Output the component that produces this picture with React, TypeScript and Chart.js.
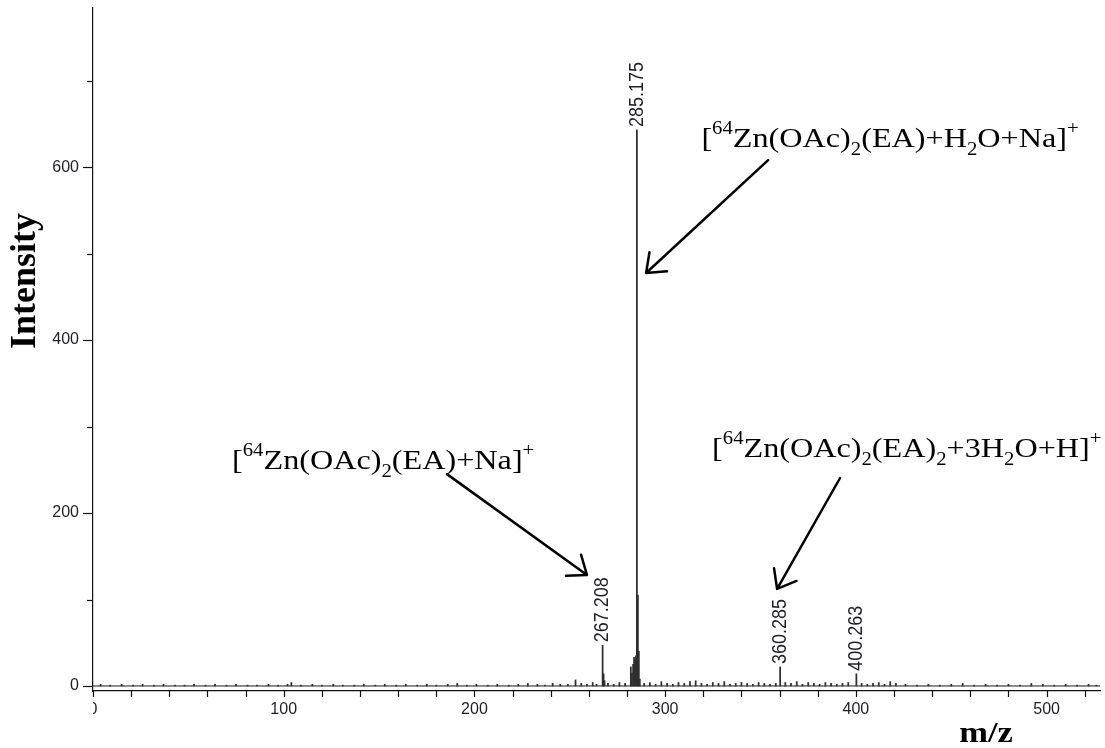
import React, { useEffect, useRef } from "react";
import { Chart, registerables } from "chart.js";

Chart.register(...registerables);

// ---------------- data ----------------
const peakMz = [267.208, 267.7, 268.2, 282.0, 282.6, 283.2, 283.7, 284.2, 284.7, 285.175, 285.7, 286.2, 286.7, 360.285, 400.263];
const peakIntensity = [47, 14, 6, 22, 15, 25, 33, 30, 35, 643, 105, 40, 8, 22, 14];

// baseline noise: [m/z, intensity]
const noise: [number, number][] = [
  [4, 2], [9, 1], [15, 2], [21, 1], [26, 2], [32, 1], [37, 2], [43, 1], [48, 1], [53, 2], [59, 1], [64, 2],
  [70, 1], [75, 2], [81, 1], [86, 1], [92, 2], [97, 1], [102, 2], [104, 4], [109, 1], [115, 2], [120, 1],
  [126, 2], [131, 1], [137, 1], [142, 2], [148, 1], [153, 2], [159, 1], [164, 2], [170, 1], [175, 2],
  [180, 1], [186, 2], [191, 3], [196, 1], [201, 2], [207, 1], [212, 2], [218, 1], [223, 2], [228, 3],
  [233, 2], [237, 1], [241, 3], [245, 2], [249, 2], [253, 7], [256, 3], [259, 2], [262, 4], [264, 2],
  [270, 3], [273, 2], [276, 4], [279, 3], [289, 3], [292, 4], [295, 2], [298, 5], [301, 3], [304, 2],
  [307, 4], [310, 3], [313, 5], [316, 6], [319, 3], [322, 2], [325, 4], [328, 3], [331, 5], [334, 2],
  [337, 3], [340, 4], [343, 3], [346, 2], [349, 4], [352, 3], [355, 2], [358, 3], [363, 4], [366, 3],
  [369, 5], [372, 2], [375, 4], [378, 3], [381, 2], [384, 4], [387, 3], [390, 2], [393, 3], [396, 4],
  [403, 3], [406, 2], [409, 3], [412, 4], [415, 2], [418, 5], [421, 3], [426, 2], [432, 1], [438, 2],
  [444, 1], [450, 2], [456, 3], [462, 1], [468, 2], [474, 1], [480, 2], [486, 1], [492, 3], [498, 2],
  [504, 1], [510, 2], [516, 1], [522, 2], [526, 1],
];

const labelText = ["267.208", "285.175", "360.285", "400.263"];
const labelMz = [267.208, 285.175, 360.285, 400.263];
const labelIntensity = [47, 643, 22, 14];

const xLabelTicks = [0, 100, 200, 300, 400, 500];
const xMinorTicks = [20, 40, 60, 80, 120, 140, 160, 180, 220, 240, 260, 280, 320, 340, 360, 380, 420, 440, 460, 480, 520];
const yLabelTicks = [0, 200, 400, 600];
const yMinorTicks = [100, 300, 500, 700];

const xRange = [0, 528];
const yRange = [-5.8, 784];
const baselineMz = [0, 528];
const baselineIntensity = [0, 0];

const xTitle = "m/z";
const yTitle = "Intensity";

type Seg = [string, "n" | "sup" | "sub"];
const annotationTexts: Seg[][] = [
  [["[", "n"], ["64", "sup"], ["Zn(OAc)", "n"], ["2", "sub"], ["(EA)+H", "n"], ["2", "sub"], ["O+Na]", "n"], ["+", "sup"]],
  [["[", "n"], ["64", "sup"], ["Zn(OAc)", "n"], ["2", "sub"], ["(EA)+Na]", "n"], ["+", "sup"]],
  [["[", "n"], ["64", "sup"], ["Zn(OAc)", "n"], ["2", "sub"], ["(EA)", "n"], ["2", "sub"], ["+3H", "n"], ["2", "sub"], ["O+H]", "n"], ["+", "sup"]],
];
// anchors in data units (m/z, intensity)
const annotationTextAt = [[319, 623], [72.9, 251], [324.6, 265]];
const arrowTail = [[354, 608], [185.6, 245], [391.7, 240.5]];
const arrowTip = [[290, 477.6], [259, 128.4], [358.7, 112.2]];

// ---------------- drawing helpers ----------------
const SERIF = "'Liberation Serif', 'Times New Roman', serif";
const SANS = "'Liberation Sans', Arial, sans-serif";
const TICK_COLOR = "#1e1e24";
const STRETCH = 1.15;

function drawRich(ctx: CanvasRenderingContext2D, segs: Seg[], x: number, y: number) {
  ctx.save();
  ctx.translate(x, y);
  ctx.scale(STRETCH, 1);
  ctx.fillStyle = "#000";
  ctx.textAlign = "left";
  ctx.textBaseline = "alphabetic";
  let cx = 0;
  for (const [t, m] of segs) {
    if (m === "n") {
      ctx.font = `28px ${SERIF}`;
      ctx.fillText(t, cx, 0);
    } else if (m === "sup") {
      ctx.font = `18px ${SERIF}`;
      ctx.fillText(t, cx, -13);
    } else {
      ctx.font = `18px ${SERIF}`;
      ctx.fillText(t, cx, 8);
    }
    cx += ctx.measureText(t).width;
  }
  ctx.restore();
}

function drawArrow(ctx: CanvasRenderingContext2D, x0: number, y0: number, x1: number, y1: number) {
  const ang = Math.atan2(y1 - y0, x1 - x0);
  const len = 21;
  const spread = (38 * Math.PI) / 180;
  ctx.save();
  ctx.strokeStyle = "#000";
  ctx.lineWidth = 2.5;
  ctx.lineCap = "round";
  ctx.lineJoin = "round";
  ctx.beginPath();
  ctx.moveTo(x0, y0);
  ctx.lineTo(x1, y1);
  ctx.moveTo(x1 - len * Math.cos(ang - spread), y1 - len * Math.sin(ang - spread));
  ctx.lineTo(x1, y1);
  ctx.lineTo(x1 - len * Math.cos(ang + spread), y1 - len * Math.sin(ang + spread));
  ctx.stroke();
  ctx.restore();
}

const decor = {
  id: "decor",
  afterDraw(chart: any) {
    const { ctx, chartArea } = chart;
    const xs = chart.scales.x;
    const ys = chart.scales.y;
    ctx.save();
    ctx.strokeStyle = "#111";
    ctx.lineWidth = 1.2;
    const xb = chartArea.bottom;
    for (const v of [...xLabelTicks, ...xMinorTicks]) {
      const px = Math.round(xs.getPixelForValue(v)) + 0.5;
      ctx.beginPath();
      ctx.moveTo(px, xb);
      ctx.lineTo(px, xb + 6);
      ctx.stroke();
    }
    const yl = chartArea.left;
    for (const v of yLabelTicks) {
      const py = Math.round(ys.getPixelForValue(v)) + 0.5;
      ctx.beginPath();
      ctx.moveTo(yl - 10, py);
      ctx.lineTo(yl, py);
      ctx.stroke();
    }
    for (const v of yMinorTicks) {
      const py = Math.round(ys.getPixelForValue(v)) + 0.5;
      ctx.beginPath();
      ctx.moveTo(yl - 6, py);
      ctx.lineTo(yl, py);
      ctx.stroke();
    }
    ctx.restore();

    // clipped "0" label of the x axis
    ctx.save();
    ctx.beginPath();
    ctx.rect(yl, xb + 1, 40, 40);
    ctx.clip();
    ctx.font = `16px ${SANS}`;
    ctx.fillStyle = TICK_COLOR;
    ctx.textAlign = "center";
    ctx.textBaseline = "middle";
    ctx.fillText(String(xLabelTicks[0]), xs.getPixelForValue(xLabelTicks[0]), xb + 9 + 9.6);
    ctx.restore();

    // peak labels
    for (let i = 0; i < labelText.length; i++) {
      const px = xs.getPixelForValue(labelMz[i]);
      const py = ys.getPixelForValue(labelIntensity[i]) - 3;
      ctx.save();
      ctx.translate(px, py);
      ctx.rotate(-Math.PI / 2);
      ctx.scale(1, STRETCH);
      ctx.font = `18px ${SANS}`;
      ctx.fillStyle = TICK_COLOR;
      ctx.textAlign = "left";
      ctx.textBaseline = "middle";
      ctx.fillText(labelText[i], 0, 0);
      ctx.restore();
    }

    // axis titles
    ctx.save();
    ctx.translate(35, 281);
    ctx.rotate(-Math.PI / 2);
    ctx.font = `bold 36px ${SERIF}`;
    ctx.fillStyle = "#000";
    ctx.textAlign = "center";
    ctx.textBaseline = "alphabetic";
    ctx.fillText(yTitle, 0, 0);
    ctx.restore();

    ctx.save();
    ctx.translate(986, 742);
    ctx.scale(STRETCH, 1);
    ctx.font = `bold 30px ${SERIF}`;
    ctx.fillStyle = "#000";
    ctx.textAlign = "center";
    ctx.textBaseline = "alphabetic";
    ctx.fillText(xTitle, 0, 0);
    ctx.restore();

    // annotations
    for (let i = 0; i < annotationTexts.length; i++) {
      const [tx, ty] = annotationTextAt[i];
      drawRich(ctx, annotationTexts[i], xs.getPixelForValue(tx), ys.getPixelForValue(ty));
      const [ax0, ay0] = arrowTail[i];
      const [ax1, ay1] = arrowTip[i];
      drawArrow(
        ctx,
        xs.getPixelForValue(ax0),
        ys.getPixelForValue(ay0),
        xs.getPixelForValue(ax1),
        ys.getPixelForValue(ay1)
      );
    }
  },
};

export default function App() {
  const ref = useRef<HTMLCanvasElement | null>(null);

  useEffect(() => {
    if (!ref.current) return;
    const stickData = [
      ...peakMz.map((m, i) => ({ x: m, y: peakIntensity[i] })),
      ...noise.map(([m, v]) => ({ x: m, y: v })),
    ];
    const chart = new Chart(ref.current, {
      type: "bar",
      data: {
        datasets: [
          {
            type: "line",
            label: "baseline",
            data: baselineMz.map((m, i) => ({ x: m, y: baselineIntensity[i] })),
            borderColor: "#1a1a1a",
            borderWidth: 1,
            pointRadius: 0,
            order: 2,
          } as any,
          {
            type: "bar",
            label: "spectrum",
            data: stickData,
            backgroundColor: "#2e2e2e",
            borderWidth: 0,
            barThickness: 1.1,
            order: 1,
          } as any,
        ],
      },
      options: {
        animation: false,
        responsive: false,
        maintainAspectRatio: false,
        layout: { padding: { top: 8, right: 5, left: 0, bottom: 0 } },
        plugins: { legend: { display: false }, tooltip: { enabled: false } },
        scales: {
          x: {
            type: "linear",
            min: xRange[0],
            max: xRange[1],
            offset: false,
            grid: { display: false, drawTicks: false },
            border: { display: true, color: "#111", width: 1.2 },
            ticks: {
              autoSkip: false,
              maxRotation: 0,
              padding: 9,
              color: TICK_COLOR,
              font: { size: 16, family: SANS },
              callback: (v: any) => (xLabelTicks.includes(v) && v !== 0 ? String(v) : ""),
            },
            afterBuildTicks: (s: any) => {
              s.ticks = [...xLabelTicks, ...xMinorTicks].sort((a, b) => a - b).map((v) => ({ value: v }));
            },
            afterFit: (s: any) => {
              s.height = 57;
              s.paddingLeft = 0;
              s.paddingRight = 0;
            },
          },
          y: {
            type: "linear",
            min: yRange[0],
            max: yRange[1],
            grid: { display: false, drawTicks: false },
            border: { display: true, color: "#111", width: 1.2 },
            ticks: {
              autoSkip: false,
              padding: 14,
              color: TICK_COLOR,
              font: { size: 16, family: SANS },
              callback: (v: any) => (yLabelTicks.includes(v) ? String(v) : ""),
            },
            afterBuildTicks: (s: any) => {
              s.ticks = [...yLabelTicks, ...yMinorTicks].sort((a, b) => a - b).map((v) => ({ value: v }));
            },
            afterFit: (s: any) => {
              s.width = 93;
              s.paddingTop = 0;
              s.paddingBottom = 0;
            },
          },
        },
      } as any,
      plugins: [decor as any],
    });
    return () => chart.destroy();
  }, []);

  return (
    <div style={{ position: "fixed", left: 0, top: 0, width: 1105, height: 748, background: "#fff" }}>
      <canvas ref={ref} width={1105} height={748} style={{ display: "block" }} />
    </div>
  );
}
